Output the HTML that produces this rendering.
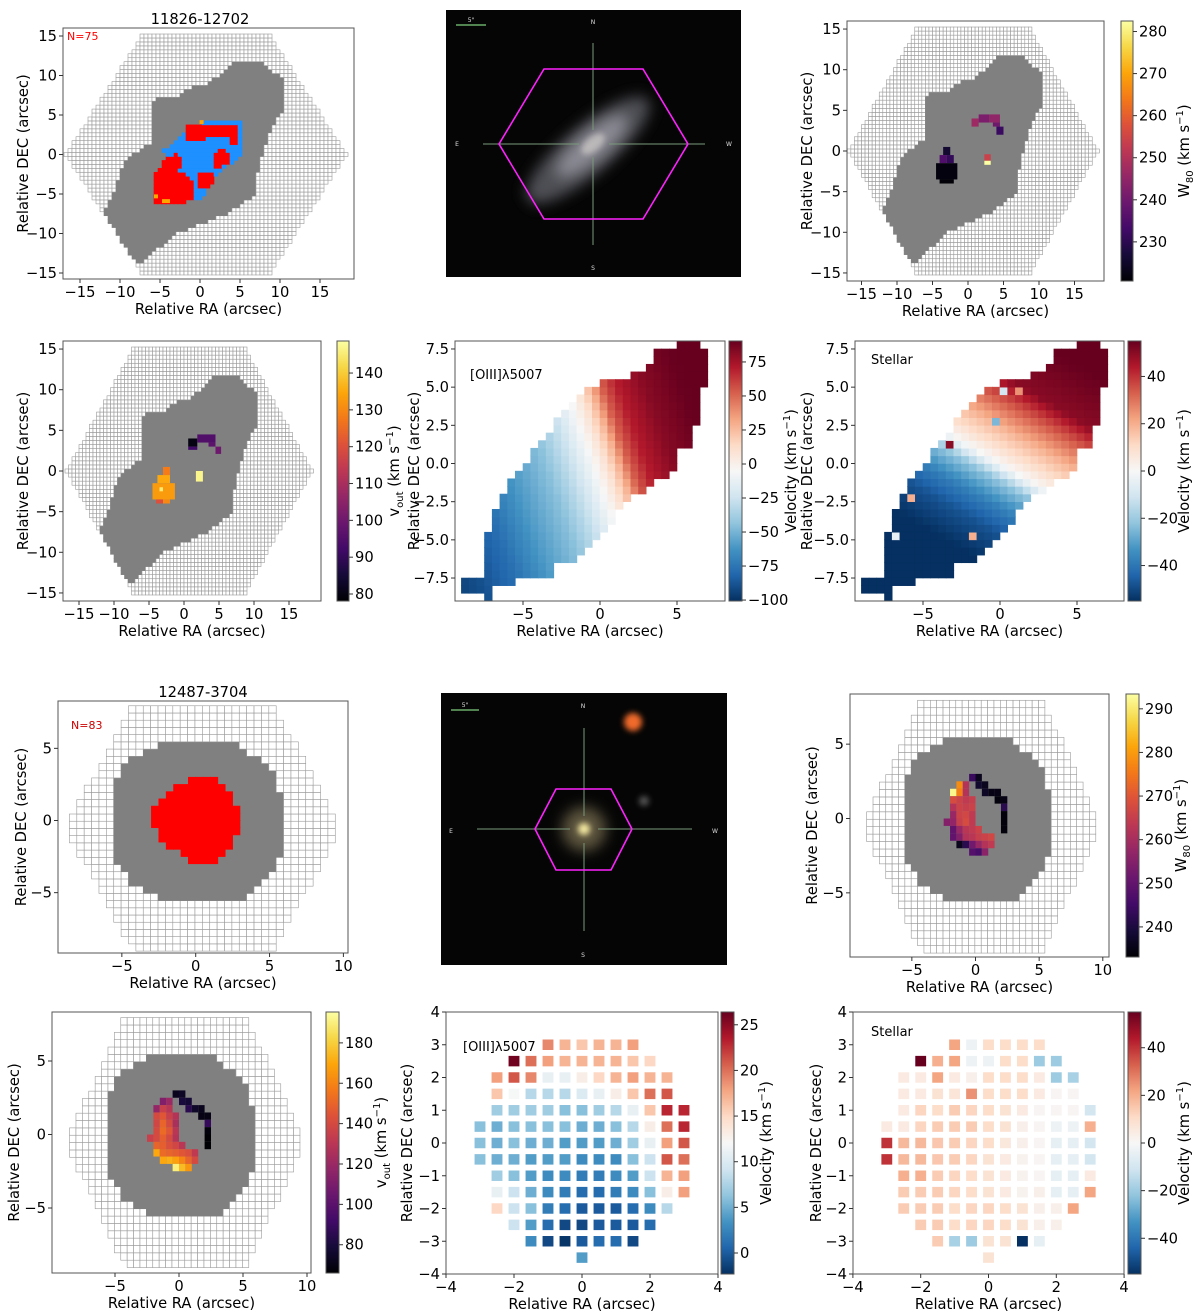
<!DOCTYPE html>
<html><head><meta charset="utf-8"><title>MaNGA outflow maps</title>
<style>
html,body{margin:0;padding:0;background:#fff;}
svg{display:block;font-family:"DejaVu Sans","Liberation Sans",sans-serif;}
</style></head>
<body>
<svg id="fig" xmlns="http://www.w3.org/2000/svg" width="1200" height="1316" viewBox="0 0 1200 1316">
<defs>
<filter id="blur6" x="-50%" y="-50%" width="200%" height="200%"><feGaussianBlur stdDeviation="7"/></filter>
<filter id="blur3" x="-50%" y="-50%" width="200%" height="200%"><feGaussianBlur stdDeviation="3"/></filter>
</defs>
<g>
<rect x="446" y="10" width="295" height="267" fill="#050505"/>
<ellipse cx="588" cy="150" rx="78" ry="24" transform="rotate(-40 588 150)" fill="#6e7078" opacity="0.7" filter="url(#blur6)"/>
<ellipse cx="592" cy="146" rx="45" ry="14" transform="rotate(-40 592 146)" fill="#a6a4b0" opacity="0.7" filter="url(#blur6)"/>
<ellipse cx="593" cy="144" rx="14" ry="7" transform="rotate(-40 593 144)" fill="#c8c4c2" opacity="0.8" filter="url(#blur3)"/>
<line x1="593" y1="43" x2="593" y2="130" stroke="#7a9a7a" stroke-width="1"/>
<line x1="593" y1="157" x2="593" y2="245" stroke="#7a9a7a" stroke-width="1"/>
<line x1="483" y1="144" x2="579" y2="144" stroke="#7a9a7a" stroke-width="1"/>
<line x1="609" y1="144" x2="705" y2="144" stroke="#7a9a7a" stroke-width="1"/>
<polygon points="499,144 544,69 643,69 688,144 643,219 544,219" fill="none" stroke="#ff22ff" stroke-width="1.6"/>
<line x1="456" y1="25" x2="486" y2="25" stroke="#7fcf7f" stroke-width="1.2"/>
<text x="471" y="22" font-size="6" fill="#ddd" text-anchor="middle">5"</text>
<text x="593" y="24" font-size="6" fill="#ddd" text-anchor="middle">N</text>
<text x="593" y="270" font-size="6" fill="#ddd" text-anchor="middle">S</text>
<text x="457" y="146" font-size="6" fill="#ddd" text-anchor="middle">E</text>
<text x="729" y="146" font-size="6" fill="#ddd" text-anchor="middle">W</text>
</g>
<g>
<rect x="441" y="693" width="286" height="272" fill="#050505"/>
<circle cx="584" cy="829" r="22" fill="#a89a70" opacity="0.55" filter="url(#blur6)"/>
<circle cx="584" cy="829" r="6" fill="#f4e8a0" filter="url(#blur3)"/>
<circle cx="633" cy="722" r="9" fill="#f06a2a" filter="url(#blur3)"/>
<circle cx="644" cy="801" r="5" fill="#555" filter="url(#blur3)"/>
<line x1="584" y1="728" x2="584" y2="816" stroke="#7a9a7a" stroke-width="1"/>
<line x1="584" y1="843" x2="584" y2="931" stroke="#7a9a7a" stroke-width="1"/>
<line x1="477" y1="829" x2="570" y2="829" stroke="#7a9a7a" stroke-width="1"/>
<line x1="598" y1="829" x2="692" y2="829" stroke="#7a9a7a" stroke-width="1"/>
<polygon points="535,829 556,789 611,789 632,829 611,870 556,870" fill="none" stroke="#ff22ff" stroke-width="1.6"/>
<line x1="451" y1="710" x2="479" y2="710" stroke="#7fcf7f" stroke-width="1.2"/>
<text x="465" y="707" font-size="6" fill="#ddd" text-anchor="middle">5"</text>
<text x="583" y="708" font-size="6" fill="#ddd" text-anchor="middle">N</text>
<text x="583" y="957" font-size="6" fill="#ddd" text-anchor="middle">S</text>
<text x="451" y="833" font-size="6" fill="#ddd" text-anchor="middle">E</text>
<text x="715" y="833" font-size="6" fill="#ddd" text-anchor="middle">W</text>
</g>
</svg>
<script>
const tickA = [-15,-10,-5,0,5,10,15];
const tickAv = [-5,0,5];
const tickAvY = [-7.5,-5,-2.5,0,2.5,5,7.5];
const tickBx = [-5,0,5,10];
const tickBy = [-5,0,5];
const tickBv = [-4,-2,0,2,4];
const tickBvY = [-4,-3,-2,-1,0,1,2,3,4];
const cbW80A = [230,240,250,260,270,280];
const cbVoutA = [80,90,100,110,120,130,140];
const cbOiiiA = [-100,-75,-50,-25,0,25,50,75];
const cbStarA = [-40,-20,0,20,40];
const cbW80B = [240,250,260,270,280,290];
const cbVoutB = [80,100,120,140,160,180];
const cbOiiiB = [0,5,10,15,20,25];
const cbStarB = [-40,-20,0,20,40];
const grayA = [[4.2,11.6],[8.1,11.6],[10.6,9.2],[10.6,6.1],[9.8,4.6],[8.3,1.6],[7.3,-2],[6.7,-5.4],[3.3,-7.5],[-2.9,-10],[-7.5,-13.8],[-9.2,-12.5],[-10.6,-9.5],[-12,-8.5],[-12,-7.3],[-10.6,-4.3],[-9.4,-0.7],[-6,1.6],[-6,6.9],[-4.2,7.5],[-2.9,6.9],[-1.7,8.4],[0.8,8.8]];
const blueA = [[-4.5,0.5],[-2.3,2.2],[-1.5,3.4],[2,4.5],[5.4,4.5],[5.2,0],[2,-2.8],[0,-6],[-2.5,-4],[-3.5,-1]];
const redA1 = [[-4,-0.3],[-2.8,0.4],[-2.2,-1],[-2.5,-2],[-1,-3.3],[-0.5,-5.2],[-1.5,-6],[-5.6,-6],[-5.6,-2.3]];
const redA2 = [[-1.6,1.8],[-1.6,3.8],[4.6,3.8],[4.6,1.2],[3.6,1.2],[3.6,2.5],[1,2.5],[0.5,1.8]];
const redA3 = [[1.7,-1.8],[1.7,0.3],[3,0.8],[3.8,0.2],[3.8,-0.8],[2.5,-1.8]];
const redA4 = [[0,-2.4],[1.7,-2.4],[1.7,-3.4],[0.8,-4.2],[0,-4.2]];
const orangeA = [[-5.5,-5.3],[-4.5,-5.9],[-4,-5.9],[0.2,4.1]];
const w80A = [[0.5,1.5,3.0,4.0,247],[1.5,3.0,3.5,4.5,242],[3.0,4.5,3.5,4.5,245],[3.5,4.5,3.0,3.5,240],[4.0,5.0,2.0,3.0,232],
  [-3.5,-2.5,-0.5,0.5,226],[-4,-3,-1.5,-0.5,235],[-3,-2,-1.5,-0.5,231],[-4.5,-1.5,-3.5,-1.5,222],[-4,-2,-4,-3.5,221],
  [2.3,3.2,-1.2,-0.4,254],[2.3,3.2,-1.7,-1.2,283]];
const voutA = [[0.6,1.9,3.0,4.0,80],[1.9,4.5,3.5,4.5,95],[3.5,4.5,3.0,3.5,97],[4.5,5.3,2.1,3.0,100],[0.6,1.9,2.6,3.0,92],
  [-3,-2,-0.5,0.5,128],[-3.8,-2,-1.5,-0.5,135],[-4.5,-1.3,-3.5,-1.5,133],[-4,-3,-4,-3.5,120],[-3,-2,-4,-3.5,130],[-3.5,-3,-2.5,-2,145],
  [1.7,2.7,-1.3,0,147]];
const oiiiS = [-12,-9,-7,-5,-3,-1.5,-0.5,0.3,1,1.6,2.5,4,6,9];
const oiiiV = [-100,-90,-78,-60,-45,-25,-8,8,28,52,70,82,90,92];
const starS = [-10,-6,-4,-2.5,-1,0,1,2,3,4,5,8];
const starV = [-55,-55,-48,-38,-22,0,10,18,28,38,50,55];
const starOut = [[-3.25,1.25,50],[-5.75,-2.25,20],[-6.75,-4.75,-5],[1.25,-3.75,-5],[1.25,-4.25,20],[-1.75,-4.75,20],[-0.25,2.75,-25],[0.25,4.75,-10],[1.25,4.75,25],[-0.25,-5.25,-8]];
const velMaskA = [[-8.77,-7.63],[-8.77,-8.3],[-7.68,-8.3],[-7.68,-8.8],[-7.07,-8.8],[-7.07,-7.8],[-5.5,-7.8],[-5.5,-7.25],[-2.9,-7.25],[-2.9,-6.7],[-1.9,-6.7],[0.2,-4.8],[1.17,-3.3],[1.7,-2.75],[2.8,-1.75],[3.8,-1.2],[4.4,-0.76],[4.9,-0.2],[4.9,0.67],[5.9,1.2],[5.9,2.7],[6.4,2.7],[6.4,3.4],[6.0,3.4],[6.0,3.7],[6.4,3.7],[6.93,5.8],[6.93,7.3],[6.4,7.3],[6.4,7.8],[4.76,7.8],[4.76,7.4],[3.7,7.4],[3.7,6.3],[3.2,6.3],[2.2,5.9],[2.2,5.4],[0.07,5.4],[-0.47,4.95],[-1.4,4.4],[-1.9,3.9],[-2.5,3.3],[-2.9,2.9],[-3.4,1.9],[-4,1.3],[-4.5,0.4],[-5.4,-0.6],[-6,-1.6],[-6.6,-2.2],[-7,-4.1],[-7.6,-5.1],[-7.6,-7.6]];
const grayB = [[-5.8,1.9],[-5.2,3.3],[-4,4.5],[-2.2,5.3],[2.8,5.3],[4.4,4.2],[5.3,3.3],[5.8,1.4],[5.8,-2.2],[5.3,-3.3],[4.4,-4.3],[2.8,-5.8],[-1.8,-5.8],[-3,-5.2],[-4.4,-4.3],[-5.3,-2.9],[-5.8,-1.2]];
const redB = [[-0.3,2.85],[1.3,2.85],[2.3,1.7],[2.8,0.8],[2.8,-0.8],[2.3,-2],[1.3,-2.8],[-0.3,-2.8],[-1.5,-2],[-2.3,-1.2],[-2.8,-0.3],[-2.8,0.8],[-2.3,1.3],[-1.5,2.3]];
const crescentX = [-0.25,0.25,0.25,0.75,0.75,1.25,1.75,1.75,2.25,2.25,2.25,2.25,2.25, -1.25,-0.75, -1.75,-1.25,-0.75, -1.75,-1.25,-0.75,-0.25, -1.75,-1.25,-0.75,-0.25, -1.75,-1.25,-0.75,-0.25, -2.25,-1.75,-1.25,-0.75,-0.25, -1.75,-1.25,-0.75,-0.25,0.25, -1.75,-1.25,-0.75,-0.25,0.25,0.75,1.25, -1.25,-0.75,-0.25,0.25,0.75,1.25, -0.25,0.25,0.75];
const crescentY = [2.75,2.75,2.25,2.25,1.75,1.75,1.75,1.25,1.25,0.75,0.25,-0.25,-0.75, 2.25,2.25, 1.75,1.75,1.75, 1.25,1.25,1.25,1.25, 0.75,0.75,0.75,0.75, 0.25,0.25,0.25,0.25, -0.25,-0.25,-0.25,-0.25,-0.25, -0.75,-0.75,-0.75,-0.75,-0.75, -1.25,-1.25,-1.25,-1.25,-1.25,-1.25,-1.25, -1.75,-1.75,-1.75,-1.75,-1.75,-1.75, -2.25,-2.25,-2.25];
const w80B = [244,236,238,236,237,235,235,234,235,242,234,234,234, 278,262, 292,276,262, 268,266,264,265, 262,266,265,266, 258,266,267,264, 255,257,265,268,264, 250,258,263,264,266, 250,255,262,263,265,266,267, 236,242,252,258,262,264, 248,246,256];
const voutB = [72,74,80,78,85,75,72,70,70,88,68,66,66, 112,120, 118,135,130, 140,145,135,128, 138,150,140,125, 140,152,145,130, 135,140,148,140,128, 150,148,142,138,130, 170,152,150,148,145,142,132, 170,172,168,160,150,140, 190,175,165];
const oiiiRows = [3,2.5,2,1.5,1,0.5,0,-0.5,-1,-1.5,-2,-2.5,-3,-3.5];
const oiiiRowStart = [-1,-2,-2.5,-2.5,-2.5,-3,-3,-3,-2.5,-2.5,-2.5,-2,-1.5,0];
const oiiiB = [
 [19,17,16,17,17,18],
 [26,20,18,17,17,17,17,16,15],
 [18,21,19,11,11,13,15,17,18,17,17],
 [16,12,8,8,8,10,11,13,16,20,21],
 [7,7,7,7,6,6,7,8,11,16,23,23],
 [6,5,6,6,6,6,5,5,6,8,13,20,23],
 [6,5,6,5,5,4,4,4,5,7,11,18,21],
 [6,5,5,4,4,4,3,3,3,6,9,21,20],
 [7,6,4,3,3,2,2,3,4,9,17,18],
 [11,9,5,3,2,1,1,2,3,6,13,18],
 [15,9,6,2,1,0,0,0,1,3,8],
 [9,4,1,-1,-1,0,0,0,1],
 [3,-1,-2,0,1,1,-1],
 [4]];
const starB = [
 [22,-3,10,10,10,10],
 [55,20,22,-3,-3,10,10,-20,-20],
 [5,5,22,5,3,10,10,10,5,-20,-18],
 [5,5,8,7,25,10,10,10,5,1,1],
 [5,12,10,14,12,10,8,5,1,1,1,-10],
 [5,5,12,14,14,14,10,8,3,1,-3,-3,20],
 [40,18,18,15,14,12,10,6,3,1,-5,-5,-10],
 [40,18,18,15,14,12,8,5,2,1,-5,-5,-10],
 [20,20,14,12,10,8,5,2,1,-5,-5,5],
 [14,14,14,12,10,8,5,2,3,-5,-5,22],
 [14,14,14,10,12,12,10,8,3,3,22],
 [14,14,10,12,12,10,8,3,3],
 [14,-18,-20,8,8,-55,-5],
 [8]];
const INF = ['#000004','#160b39','#420a68','#6a176e','#932667','#bc3754','#dd513a','#f37819','#fca50a','#f6d746','#fcffa4'];
const RDBU = ['#053061','#2166ac','#4393c3','#92c5de','#d1e5f0','#f7f7f7','#fddbc7','#f4a582','#d6604d','#b2182b','#67001f'];

const NS='http://www.w3.org/2000/svg';
const fig=document.getElementById('fig');
const FS=14.7;
function mk(tag,attrs,parent){const e=document.createElementNS(NS,tag);for(const k in attrs)e.setAttribute(k,attrs[k]);(parent||fig).appendChild(e);return e;}
function hx(h){return [parseInt(h.slice(1,3),16),parseInt(h.slice(3,5),16),parseInt(h.slice(5,7),16)];}
function cmap(stops,t){t=Math.max(0,Math.min(1,t));const f=t*(stops.length-1);const i=Math.min(stops.length-2,Math.floor(f));const u=f-i;const a=hx(stops[i]),b=hx(stops[i+1]);return 'rgb('+a.map((v,k)=>Math.round(v+(b[k]-v)*u)).join(',')+')';}
function inPoly(x,y,p){let c=false;for(let i=0,j=p.length-1;i<p.length;j=i++){const xi=p[i][0],yi=p[i][1],xj=p[j][0],yj=p[j][1];if(((yi>y)!=(yj>y))&&(x<(xj-xi)*(y-yi)/(yj-yi)+xi))c=!c;}return c;}
function interp(xs,ys,x){if(x<=xs[0])return ys[0];for(let i=1;i<xs.length;i++){if(x<=xs[i]){const u=(x-xs[i-1])/(xs[i]-xs[i-1]);return ys[i-1]+u*(ys[i]-ys[i-1]);}}return ys[ys.length-1];}
function fmt(v,d){const s=Math.abs(v).toFixed(d);return (v<0?'\u2212':'')+s;}
let clipN=0;
function axes(p){
  const g=mk('g',{});
  
  
  const X=v=>p.ox+p.kx*v, Y=v=>p.oy-p.ky*v;
  const cid='clip'+(clipN++);
  const cp=mk('clipPath',{id:cid},g);
  mk('rect',{x:p.x0,y:p.y0,width:p.x1-p.x0,height:p.y1-p.y0},cp);
  const c=mk('g',{'clip-path':'url(#'+cid+')'},g);
  
  
  return {g,c,X,Y,p};
}
function finish(A){
  const p=A.p,g=A.g;
  const fr=mk('rect',{x:p.x0,y:p.y0,width:p.x1-p.x0,height:p.y1-p.y0,fill:'none',stroke:'#555','stroke-width':1},g);
  
  
  p.xt.forEach(v=>{const x=A.X(v);
    mk('line',{x1:x,x2:x,y1:p.y1,y2:p.y1+4,stroke:'#333','stroke-width':1},g);
    const t=mk('text',{x:x,y:p.y1+18,'font-size':FS,'text-anchor':'middle'},g);t.textContent=fmt(v,p.xd||0);
    
    });
  p.yt.forEach(v=>{const y=A.Y(v);
    mk('line',{x1:p.x0-4,x2:p.x0,y1:y,y2:y,stroke:'#333','stroke-width':1},g);
    const t=mk('text',{x:p.x0-6,y:y+5,'font-size':FS,'text-anchor':'end'},g);t.textContent=fmt(v,p.yd||0);
    
    });
  const xl=mk('text',{x:(p.x0+p.x1)/2,y:p.y1+35,'font-size':FS,'text-anchor':'middle'},g);xl.textContent='Relative RA (arcsec)';
  
  
  const yc=(p.y0+p.y1)/2, lx=p.ylx+6;
  const yl=mk('text',{x:lx,y:yc,'font-size':FS,'text-anchor':'middle',transform:'rotate(-90 '+lx+' '+yc+')'},g);yl.textContent='Relative DEC (arcsec)';
  
  
  if(p.title){const t=mk('text',{x:p.tx,y:p.ty,'font-size':FS,'text-anchor':'middle'},g);t.textContent=p.title;
    
    }
}
let gradN=0;
function colorbar(cb){
  const g=mk('g',{});
  
  
  const id='grad'+(gradN++);
  const lg=mk('linearGradient',{id:id,x1:0,y1:1,x2:0,y2:0},g);
  cb.stops.forEach((s,i)=>mk('stop',{offset:(i/(cb.stops.length-1)),'stop-color':s},lg));
  mk('rect',{x:cb.x0,y:cb.y0,width:cb.x1-cb.x0,height:cb.y1-cb.y0,fill:'url(#'+id+')',stroke:'#555','stroke-width':1},g);
  const Yc=v=>cb.y1-(v-cb.vmin)/(cb.vmax-cb.vmin)*(cb.y1-cb.y0);
  cb.ticks.forEach(v=>{const y=Yc(v);
    mk('line',{x1:cb.x1,x2:cb.x1+4,y1:y,y2:y,stroke:'#333'},g);
    const t=mk('text',{x:cb.x1+6,y:y+5,'font-size':FS},g);t.textContent=fmt(v,0);
    
    });
  const yc=(cb.y0+cb.y1)/2, lx=cb.lx+6;
  const t=mk('text',{x:lx,y:yc,'font-size':FS,'text-anchor':'middle',transform:'rotate(-90 '+lx+' '+yc+')'},g);
  
  
  const a=mk('tspan',{},t);a.textContent=cb.lab;
  if(cb.sub){const s=mk('tspan',{'font-size':10,dy:4},t);s.textContent=cb.sub;const r=mk('tspan',{dy:-4},t);r.textContent=' (km s';}
  else{const r=mk('tspan',{},t);r.textContent=' (km s';}
  const sp=mk('tspan',{'font-size':10,dy:-6},t);sp.textContent='\u22121';
  const e=mk('tspan',{dy:6},t);e.textContent=')';
  return Yc;
}
function cellRect(A,cx,cy,w,h,fill,stroke,name){
  const x=A.X(cx-w/2),y=A.Y(cy+h/2);
  const r=mk('rect',{x:x.toFixed(2),y:y.toFixed(2),width:(A.X(cx+w/2)-x).toFixed(2),height:(A.Y(cy-h/2)-y).toFixed(2),fill:fill},A.c);
  if(stroke){r.setAttribute('stroke',stroke);r.setAttribute('stroke-width',0.6);}
  
  
  return r;
}
function hexGrid(A,h){
  for(let y=-h.H-1;y<=h.H+1;y+=0.5){for(let x=-h.W-1;x<=h.W+2;x+=0.5){
    const cx=h.cx+x,cy=h.cy+y;
    const dy=Math.abs(y);if(dy>h.H)continue;
    const lim=h.W-(h.W-h.Wt)*dy/h.H;if(Math.abs(x)>lim)continue;
    if(h.gray&&inPoly(cx,cy,h.gray)){cellRect(A,cx,cy,0.5,0.5,'#808080','#808080','masked-spaxel');}
    else cellRect(A,cx,cy,0.5,0.5,'#ffffff','#9a9a9a','empty-spaxel');
  }}
}
const hexA={cx:0.75,cy:0,H:15,W:17.5,Wt:8,gray:grayA};
const hexB={cx:0.5,cy:-0.5,H:8.3,W:9.3,Wt:4.8,gray:grayB};

let A=axes({name:'detection-map-a',x0:63,x1:354,y0:28,y1:279,ox:200,kx:8,oy:154.5,ky:7.9,xt:tickA,yt:tickA,ylx:22,title:'11826-12702',tx:200,ty:24});
hexGrid(A,hexA);
for(let y=-8;y<=6;y+=0.5)for(let x=-7;x<=6;x+=0.5){
  let col=null;
  if(inPoly(x,y,blueA))col='#1e90ff';
  if(inPoly(x,y,redA1)||inPoly(x,y,redA2)||inPoly(x,y,redA3)||inPoly(x,y,redA4))col='#ff0000';
  if(col)cellRect(A,x,y,0.5,0.5,col,col,'outflow-spaxel');
}
orangeA.forEach(o=>cellRect(A,o[0],o[1],0.5,0.5,'#ffa500',null,'outflow-spaxel-orange'));
{const t=mk('text',{x:67,y:40,'font-size':11,fill:'#ff0000'},A.g);t.textContent='N=75';
 
 }
finish(A);

A=axes({name:'w80-map-a',x0:847,x1:1104,y0:21,y1:281,ox:968,kx:7.1,oy:151,ky:8.13,xt:tickA,yt:tickA,ylx:806});
hexGrid(A,hexA);
w80A.forEach(b=>{cellRect(A,(b[0]+b[1])/2,(b[2]+b[3])/2,b[1]-b[0],b[3]-b[2],cmap(INF,(b[4]-220.7)/(282.5-220.7)),null,'w80-spaxel');});
finish(A);
colorbar({name:'w80-colorbar-a',x0:1121,x1:1133,y0:21,y1:281,vmin:220.7,vmax:282.5,stops:INF,ticks:cbW80A,lx:1183,lab:'W',sub:'80'});

A=axes({name:'vout-map-a',x0:63,x1:321,y0:341,y1:601,ox:184,kx:7.0,oy:471,ky:8.13,xt:tickA,yt:tickA,ylx:22});
hexGrid(A,hexA);
voutA.forEach(b=>{cellRect(A,(b[0]+b[1])/2,(b[2]+b[3])/2,b[1]-b[0],b[3]-b[2],cmap(INF,(b[4]-78.1)/(148.7-78.1)),null,'vout-spaxel');});
finish(A);
colorbar({name:'vout-colorbar-a',x0:337,x1:349,y0:341,y1:601,vmin:78.1,vmax:148.7,stops:INF,ticks:cbVoutA,lx:393,lab:'v',sub:'out'});

A=axes({name:'oiii-velocity-map-a',x0:455,x1:725,y0:341,y1:601,ox:600,kx:15.4,oy:463.5,ky:15.27,xt:tickAv,yt:tickAvY,yd:1,ylx:413});
for(let y=-9;y<=8;y+=0.5)for(let x=-9;x<=7.5;x+=0.5){
  const cx=x+0.25,cy=y+0.25;if(!inPoly(cx,cy,velMaskA))continue;
  const v=interp(oiiiS,oiiiV,cx*0.85+cy*0.3);
  const c=cmap(RDBU,(v+100.7)/(90.4+100.7));
  cellRect(A,cx,cy,0.5,0.5,c,c,'oiii-velocity-spaxel');
}
{const t=mk('text',{x:470,y:379,'font-size':13},A.g);t.textContent='[OIII]\u03bb5007';
 
 }
finish(A);
colorbar({name:'oiii-velocity-colorbar-a',x0:729,x1:742,y0:341,y1:601,vmin:-100.7,vmax:90.4,stops:RDBU,ticks:cbOiiiA,lx:790,lab:'Velocity'});

A=axes({name:'stellar-velocity-map-a',x0:855,x1:1124,y0:341,y1:601,ox:1000,kx:15.4,oy:463.5,ky:15.27,xt:tickAv,yt:tickAvY,yd:1,ylx:806});
for(let y=-9;y<=8;y+=0.5)for(let x=-9;x<=7.5;x+=0.5){
  const cx=x+0.25,cy=y+0.25;if(!inPoly(cx,cy,velMaskA))continue;
  let v=interp(starS,starV,cx*0.5+cy*0.85);
  starOut.forEach(o=>{if(Math.abs(o[0]-cx)<0.1&&Math.abs(o[1]-cy)<0.1)v=o[2];});
  const c=cmap(RDBU,(v+55)/110);
  cellRect(A,cx,cy,0.5,0.5,c,c,'stellar-velocity-spaxel');
}
{const t=mk('text',{x:871,y:364,'font-size':13},A.g);t.textContent='Stellar';
 
 }
finish(A);
colorbar({name:'stellar-velocity-colorbar-a',x0:1128,x1:1141,y0:341,y1:601,vmin:-55,vmax:55,stops:RDBU,ticks:cbStarA,lx:1183,lab:'Velocity'});

A=axes({name:'detection-map-b',x0:58,x1:348,y0:701,y1:953,ox:195.7,kx:14.77,oy:820.5,ky:14.43,xt:tickBx,yt:tickBy,ylx:20,title:'12487-3704',tx:203,ty:697});
hexGrid(A,hexB);
for(let y=-3;y<=3;y+=0.5)for(let x=-3.25;x<=3.25;x+=0.5){if(inPoly(x,y-0.25,redB))cellRect(A,x,y-0.25,0.5,0.5,'#ff0000','#ff0000','outflow-spaxel');}
{const t=mk('text',{x:71,y:729,'font-size':11,fill:'#cc0000'},A.g);t.textContent='N=83';
 
 }
finish(A);

A=axes({name:'w80-map-b',x0:850,x1:1109,y0:694,y1:957,ox:975.5,kx:12.73,oy:818.5,ky:14.87,xt:tickBx,yt:tickBy,ylx:811});
hexGrid(A,hexB);
crescentX.forEach((x,i)=>{cellRect(A,x,crescentY[i],0.5,0.5,cmap(INF,(w80B[i]-233.1)/(293.4-233.1)),null,'w80-spaxel');});
finish(A);
colorbar({name:'w80-colorbar-b',x0:1126,x1:1139,y0:694,y1:957,vmin:233.1,vmax:293.4,stops:INF,ticks:cbW80B,lx:1180,lab:'W',sub:'80'});

A=axes({name:'vout-map-b',x0:52,x1:311,y0:1012,y1:1273,ox:179,kx:12.8,oy:1134.5,ky:14.7,xt:tickBx,yt:tickBy,ylx:13});
hexGrid(A,hexB);
crescentX.forEach((x,i)=>{cellRect(A,x,crescentY[i],0.5,0.5,cmap(INF,(voutB[i]-66)/(195.3-66)),null,'vout-spaxel');});
finish(A);
colorbar({name:'vout-colorbar-b',x0:326,x1:339,y0:1012,y1:1273,vmin:66,vmax:195.3,stops:INF,ticks:cbVoutB,lx:380,lab:'v',sub:'out'});

A=axes({name:'oiii-velocity-map-b',x0:446,x1:718,y0:1012,y1:1274,ox:582,kx:34,oy:1143,ky:32.75,xt:tickBv,yt:tickBvY,ylx:406});
oiiiRows.forEach((y,r)=>oiiiB[r].forEach((v,k)=>{const x=oiiiRowStart[r]+0.5*k;
  cellRect(A,x,y,0.32,0.32,cmap(RDBU,(v+2.3)/(26.4+2.3)),null,'oiii-velocity-spaxel');}));
{const t=mk('text',{x:463,y:1051,'font-size':13},A.g);t.textContent='[OIII]\u03bb5007';
 
 }
finish(A);
colorbar({name:'oiii-velocity-colorbar-b',x0:721,x1:734,y0:1012,y1:1274,vmin:-2.3,vmax:26.4,stops:RDBU,ticks:cbOiiiB,lx:765,lab:'Velocity'});

A=axes({name:'stellar-velocity-map-b',x0:853,x1:1124,y0:1012,y1:1274,ox:988.5,kx:33.9,oy:1143,ky:32.75,xt:tickBv,yt:tickBvY,ylx:815});
oiiiRows.forEach((y,r)=>starB[r].forEach((v,k)=>{const x=oiiiRowStart[r]+0.5*k;
  cellRect(A,x,y,0.32,0.32,cmap(RDBU,(v+55)/110),null,'stellar-velocity-spaxel');}));
{const t=mk('text',{x:871,y:1036,'font-size':13},A.g);t.textContent='Stellar';
 
 }
finish(A);
colorbar({name:'stellar-velocity-colorbar-b',x0:1128,x1:1141,y0:1012,y1:1274,vmin:-55,vmax:55,stops:RDBU,ticks:cbStarB,lx:1183,lab:'Velocity'});
</script>
</body></html>
